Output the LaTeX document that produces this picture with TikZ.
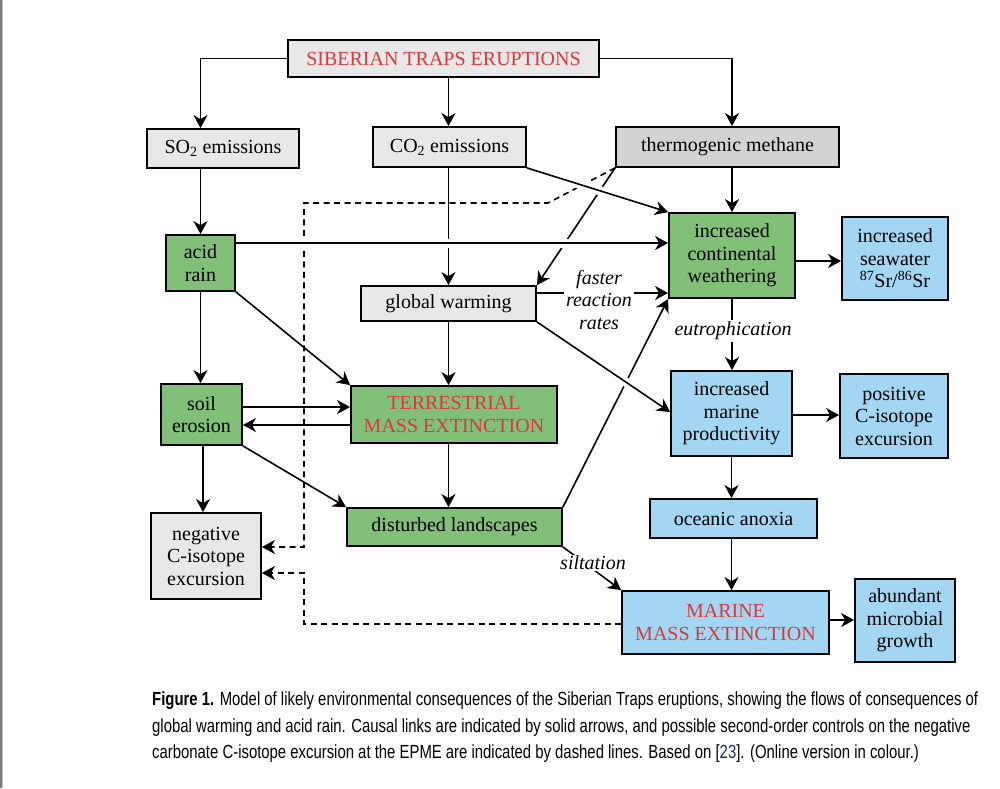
\documentclass[tikz,border=0pt]{standalone}
\usepackage{fontspec}
\usepackage{graphicx}
\setmainfont{Liberation Serif}
\newfontfamily\capfont{Liberation Sans}
\usetikzlibrary{arrows.meta}
\pgfdeclarelayer{bg}
\pgfsetlayers{bg,main}
\definecolor{grayA}{HTML}{E8E8E8}
\definecolor{grayB}{HTML}{D3D3D3}
\definecolor{greenA}{HTML}{82C07A}
\definecolor{blueA}{HTML}{A2D6F3}
\definecolor{redA}{HTML}{D63A3A}
\definecolor{navyA}{HTML}{1F2A6B}
\newsavebox\capboxA
\newsavebox\capboxB
\newsavebox\capboxC
\begin{document}
\sbox\capboxA{\capfont\fontsize{19pt}{19pt}\selectfont\textbf{Figure 1.} Model of likely environmental consequences of the Siberian Traps eruptions, showing the flows of consequences of}%
\sbox\capboxB{\capfont\fontsize{19pt}{19pt}\selectfont global warming and acid rain. Causal links are indicated by solid arrows, and possible second-order controls on the negative}%
\sbox\capboxC{\capfont\fontsize{19pt}{19pt}\selectfont carbonate C-isotope excursion at the EPME are indicated by dashed lines. Based on [{\color{navyA}23}]. (Online version in colour.)}%
\pgfmathsetmacro\capscale{826/\the\wd\capboxA}%
\begin{tikzpicture}[x=1pt,y=-1pt,
  every node/.style={font=\fontsize{20pt}{22.5pt}\selectfont},
  box/.style={draw, line width=1.8pt, align=center, inner sep=0pt},
  gbox/.style={box, fill=grayA},
  mbox/.style={box, fill=grayB},
  grbox/.style={box, fill=greenA},
  bbox/.style={box, fill=blueA},
  lab/.style={font=\itshape\fontsize{20pt}{22.5pt}\selectfont, fill=white, inner sep=2pt, align=center},
  arr/.style={line width=1.6pt, -{Stealth[length=13pt,width=14pt,inset=4pt]}},
  darr/.style={arr, dash pattern=on 6pt off 4.5pt},
  over/.style={preaction={draw=white, line width=9pt, -}},
  capline/.style={anchor=base west, inner sep=0pt}]
\useasboundingbox (0,0) rectangle (1000,788);
\begin{pgfonlayer}{bg}
\fill[white] (0,0) rectangle (1000,788);
\end{pgfonlayer}
\fill[black!52] (0,0) rectangle (1.8,788);
\fill[black!22] (1.8,0) rectangle (3,788);

% nodes
\node[gbox, text=redA, minimum width=311pt, minimum height=37pt] (sib) at (443.5,58.5) {SIBERIAN TRAPS ERUPTIONS};
\node[gbox, minimum width=152pt, minimum height=39pt] (so2) at (223,148.5) {SO\textsubscript{2} emissions};
\node[gbox, minimum width=153pt, minimum height=40pt] (co2) at (449.5,147) {CO\textsubscript{2} emissions};
\node[mbox, minimum width=223pt, minimum height=40pt] (meth) at (727.5,147) {thermogenic methane};
\node[grbox, minimum width=69pt, minimum height=56pt] (acid) at (200.5,263) {acid\\rain};
\node[grbox, minimum width=126pt, minimum height=85pt] (weath) at (732,255.5) {increased\\continental\\weathering};
\node[bbox, minimum width=106pt, minimum height=83pt] (sr) at (895,258.5) {increased\\seawater\\\textsuperscript{87}Sr/\textsuperscript{86}Sr};
\node[gbox, minimum width=175pt, minimum height=35pt] (gw) at (448.5,303.5) {global warming};
\node[grbox, minimum width=81pt, minimum height=61pt] (soil) at (201.5,414.5) {soil\\erosion};
\node[grbox, text=redA, minimum width=206pt, minimum height=57pt] (terr) at (454,414.5) {TERRESTRIAL\\MASS EXTINCTION};
\node[bbox, minimum width=121pt, minimum height=85pt] (prod) at (731.5,413.5) {increased\\marine\\productivity};
\node[bbox, minimum width=108pt, minimum height=84pt] (pos) at (894,416) {positive\\C-isotope\\excursion};
\node[gbox, minimum width=110pt, minimum height=86pt] (neg) at (206,556) {negative\\C-isotope\\excursion};
\node[grbox, minimum width=215pt, minimum height=38pt] (dist) at (454.5,527) {disturbed landscapes};
\node[bbox, minimum width=167pt, minimum height=39pt] (anox) at (733.5,518.5) {oceanic anoxia};
\node[bbox, text=redA, minimum width=207pt, minimum height=63pt] (marine) at (725.5,622.5) {MARINE\\MASS EXTINCTION};
\node[bbox, minimum width=100pt, minimum height=83pt] (abund) at (905,620.5) {abundant\\microbial\\growth};

% labels
\node[lab] (faster) at (599,300) {faster\\reaction\\rates};
\node[lab] (eutro) at (733,331) {eutrophication};
\node[lab, inner sep=1pt] (silt) at (593,563) {siltation};

\coordinate (d1) at (548,203);
\coordinate (d2) at (304,203);
\coordinate (d3) at (304,547);
\coordinate (d4) at (304,573);
\coordinate (d5) at (304,624);

\begin{pgfonlayer}{bg}
\draw[darr] (meth.south west) -- (d1) -- (d2) -- (d3) -- (neg.east |- d3);
\draw[darr] (marine.west |- d5) -- (d5) -- (d4) -- (neg.east |- d4);
\draw[arr] (sib.west) -| (so2.north -| acid.north);
\draw[arr] (sib.south -| gw.north) -- (co2.north -| gw.north);
\draw[arr] (sib.east) -| (meth.north -| weath.north);
\draw[arr] (so2.south -| acid.north) -- (acid.north);
\draw[arr] (co2.south -| gw.north) -- (gw.north);
\draw[arr] (meth.south -| weath.north) -- (weath.north);
\draw[arr] (meth.south west) -- (gw.north east);
\draw[arr,over] (co2.south east) -- (weath.north west);
\draw[arr,over] (acid.east |- 0,243) -- (weath.west |- 0,243);
\draw[arr] (gw.east |- 0,293) -- (weath.west |- 0,293);
\draw[arr] (weath.east |- 0,261) -- (sr.west |- 0,261);
\draw[arr] (acid.south) -- (soil.north -| acid.south);
\draw[arr] (acid.south east) -- (terr.north west);
\draw[arr] (gw.south) -- (terr.north -| gw.south);
\draw[arr] (soil.east |- 0,407) -- (terr.west |- 0,407);
\draw[arr] (terr.west |- 0,425) -- (soil.east |- 0,425);
\draw[arr] (soil.south -| 203,0) -- (neg.north -| 203,0);
\draw[arr] (soil.south east) -- (dist.north west);
\draw[arr] (terr.south -| gw.south) -- (dist.north -| gw.south);
\draw[arr] (dist.north east) -- (weath.south west);
\draw[arr,over] (gw.south east) -- (prod.west |- 0,412);
\draw[arr] (weath.south) -- (prod.north -| weath.south);
\draw[arr] (prod.east |- 0,415) -- (pos.west |- 0,415);
\draw[arr] (prod.south) -- (anox.north -| prod.south);
\draw[arr] (anox.south -| prod.south) -- (marine.north -| prod.south);
\draw[arr] (marine.east |- 0,620) -- (abund.west |- 0,620);
\draw[arr] (dist.south east) -- (marine.north west);
\end{pgfonlayer}

% caption
\node[capline] (cap1) at (152,705) {\scalebox{\capscale}[1]{\usebox\capboxA}};
\node[capline] (cap2) at (152,732) {\scalebox{\capscale}[1]{\usebox\capboxB}};
\node[capline] (cap3) at (152,758) {\scalebox{\capscale}[1]{\usebox\capboxC}};
\end{tikzpicture}
\end{document}
